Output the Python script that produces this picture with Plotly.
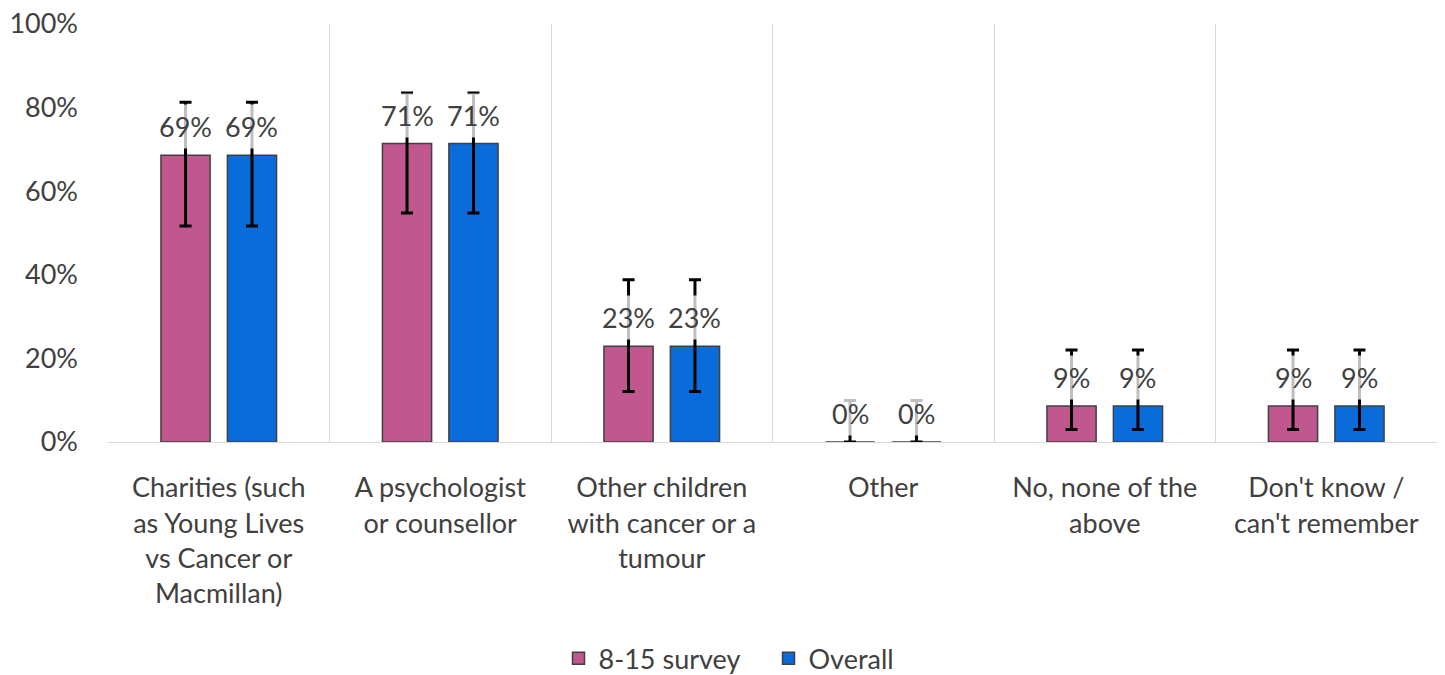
import plotly.graph_objects as go

# categories on the x axis (wrapped as in the source chart)
categories = [
    "Charities (such<br>as Young Lives<br>vs Cancer or<br>Macmillan)",
    "A psychologist<br>or counsellor",
    "Other children<br>with cancer or a<br>tumour",
    "Other",
    "No, none of the<br>above",
    "Don't know /<br>can't remember",
]

survey_815 = [0.686, 0.714, 0.229, 0.0, 0.086, 0.086]
survey_815_low = [0.517, 0.548, 0.121, 0.0, 0.030, 0.030]
survey_815_high = [0.813, 0.835, 0.388, 0.099, 0.220, 0.220]

overall = [0.686, 0.714, 0.229, 0.0, 0.086, 0.086]
overall_low = [0.517, 0.548, 0.121, 0.0, 0.030, 0.030]
overall_high = [0.813, 0.835, 0.388, 0.099, 0.220, 0.220]

PINK = "#C0578F"
BLUE = "#0A6CDB"
TEXT = "#404040"
GRID = "#D9D9D9"
FONT = "Lato, Open Sans, sans-serif"
FS = 27


def err_bar(vals, low, high):
    return dict(
        type="data",
        symmetric=False,
        array=[h - v for v, h in zip(vals, high)],
        arrayminus=[v - l for v, l in zip(vals, low)],
        color="black",
        thickness=3,
        width=6,
    )


fig = go.Figure()
fig.add_trace(go.Bar(
    name="8-15 survey", x=categories, y=survey_815,
    marker=dict(color=PINK, line=dict(color=TEXT, width=1.5)),
    error_y=err_bar(survey_815, survey_815_low, survey_815_high),
))
fig.add_trace(go.Bar(
    name="Overall", x=categories, y=overall,
    marker=dict(color=BLUE, line=dict(color=TEXT, width=1.5)),
    error_y=err_bar(overall, overall_low, overall_high),
))

# data labels with a translucent white box, drawn over the error bars
for vals, shift in ((survey_815, -33), (overall, 33)):
    for cat, v in zip(categories, vals):
        fig.add_annotation(
            x=cat, y=v, xref="x", yref="y",
            text=f"{v:.0%}", showarrow=False,
            xshift=shift, yshift=6, yanchor="bottom",
            font=dict(family=FONT, size=FS, color=TEXT),
            bgcolor="rgba(255,255,255,0.75)", borderpad=5,
        )

# the page body adds an 8px offset, so margins are trimmed to compensate
fig.update_layout(
    width=1445, height=675,
    margin=dict(l=100, r=16, t=16, b=241, autoexpand=False),
    paper_bgcolor="white", plot_bgcolor="white",
    font=dict(family=FONT, size=FS, color=TEXT),
    barmode="group", bargap=0.40, bargroupgap=0.26,
    showlegend=True,
    legend=dict(
        orientation="h", x=0.497, xanchor="center",
        yref="container", y=0.036, yanchor="middle",
        font=dict(family=FONT, size=FS, color=TEXT),
        itemwidth=30, entrywidth=165,
    ),
)
fig.update_xaxes(
    tickson="boundaries", showgrid=True, gridcolor=GRID, gridwidth=1,
    showline=True, linecolor=GRID, linewidth=1,
    ticks="", ticklabelstandoff=22,
)
fig.update_yaxes(
    range=[0, 1], dtick=0.2, tickformat=".0%",
    showgrid=False, zeroline=False, showline=False,
    ticks="", ticklabelstandoff=29, ticklabeloverflow="allow",
)

fig.write_html("out.html")
